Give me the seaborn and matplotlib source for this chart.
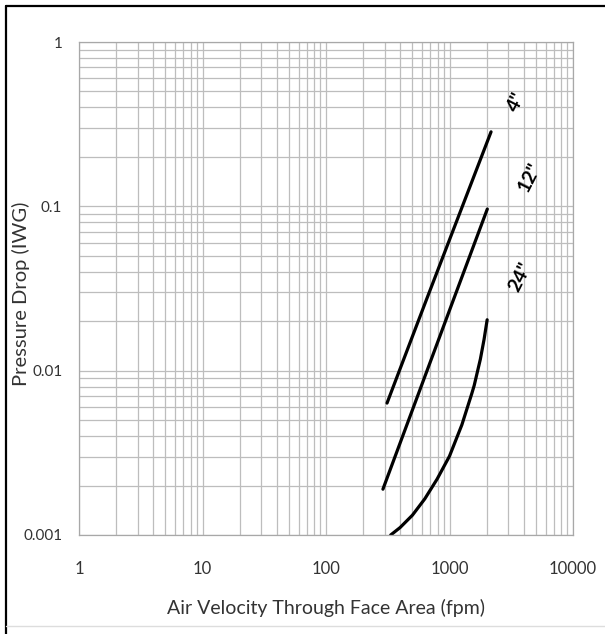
import numpy as np
import pandas as pd
import matplotlib
matplotlib.use("Agg")
import matplotlib.pyplot as plt
import matplotlib.ticker as mticker
from matplotlib.lines import Line2D
import seaborn as sns

# values (fpm, IWG)
vel_4 = [312, 650, 2170]
dp_4 = [0.00635, 0.027, 0.284]

vel_12 = [289, 1074, 2024]
dp_12 = [0.0019, 0.0269, 0.0963]

vel_24 = [334, 398, 501, 631, 794, 1000, 1259, 1514, 1585, 1778, 1905, 2018]
dp_24 = [0.001, 0.00111, 0.00132, 0.00166, 0.00219, 0.00302, 0.00468,
         0.00724, 0.00813, 0.01175, 0.0155, 0.0204]

curve_names = ['4"', '12"', '24"']
label_x = [3500, 4490, 3720]
label_y = [0.433, 0.151, 0.0373]

x_ticks = [1, 10, 100, 1000, 10000]
x_ticklabels = ["1", "10", "100", "1000", "10000"]
y_ticks = [0.001, 0.01, 0.1, 1]
y_ticklabels = ["0.001", "0.01", "0.1", "1"]

df = pd.concat([
    pd.DataFrame({"vel": vel_4, "dp": dp_4, "size": curve_names[0]}),
    pd.DataFrame({"vel": vel_12, "dp": dp_12, "size": curve_names[1]}),
    pd.DataFrame({"vel": vel_24, "dp": dp_24, "size": curve_names[2]}),
])

sns.set_style("white")
plt.rcParams['font.family'] = ['Lato', 'DejaVu Sans']

fig = plt.figure(figsize=(6.05, 6.34), dpi=100)
ax = fig.add_axes([79 / 605, 1 - 535 / 634, 494 / 605, 493 / 634])

for name in curve_names:
    sub = df[df["size"] == name]
    sns.lineplot(data=sub, x="vel", y="dp", ax=ax, color="black", lw=2.3,
                 sort=False, legend=False)

ax.set_xscale("log")
ax.set_yscale("log")
ax.set_xlim(1, 10000)
ax.set_ylim(0.001, 1)

ax.xaxis.set_major_locator(mticker.FixedLocator(x_ticks))
ax.xaxis.set_major_formatter(mticker.FixedFormatter(x_ticklabels))
ax.yaxis.set_major_locator(mticker.FixedLocator(y_ticks))
ax.yaxis.set_major_formatter(mticker.FixedFormatter(y_ticklabels))
ax.xaxis.set_minor_locator(mticker.LogLocator(base=10, subs=np.arange(2, 10)))
ax.yaxis.set_minor_locator(mticker.LogLocator(base=10, subs=np.arange(2, 10)))
ax.xaxis.set_minor_formatter(mticker.NullFormatter())
ax.yaxis.set_minor_formatter(mticker.NullFormatter())

ax.grid(True, which="both", color="#bdbdbd", lw=0.9)
ax.set_axisbelow(True)
ax.tick_params(which="both", length=0)
ax.tick_params(axis="x", pad=19, labelsize=12, colors="#333333")
ax.tick_params(axis="y", pad=12, labelsize=11, colors="#333333")
for sp in ax.spines.values():
    sp.set_color("#a8a8a8")
    sp.set_linewidth(0.9)

ax.set_xlabel("Air Velocity Through Face Area (fpm)", fontsize=14, color="#333333")
ax.set_ylabel("Pressure Drop (IWG)", fontsize=14.5, color="#333333")
ax.xaxis.set_label_coords(0.5, -0.13)
ax.yaxis.set_label_coords(-0.1, 0.49)

for name, lx, ly in zip(curve_names, label_x, label_y):
    ax.text(lx, ly, name, rotation=63, ha="center", va="center",
            fontsize=14, fontweight="bold", color="black")

# outer frame
fig.add_artist(Line2D([6 / 605, 1.0], [1 - 6 / 634, 1 - 6 / 634],
                      transform=fig.transFigure, color="black", lw=1.6))
fig.add_artist(Line2D([6 / 605, 6 / 605], [0, 1 - 6 / 634],
                      transform=fig.transFigure, color="black", lw=1.6))
fig.add_artist(Line2D([6 / 605, 1.0], [1 - 626 / 634, 1 - 626 / 634],
                      transform=fig.transFigure, color="#dddddd", lw=1.0))

fig.savefig("out.png", dpi=100)
